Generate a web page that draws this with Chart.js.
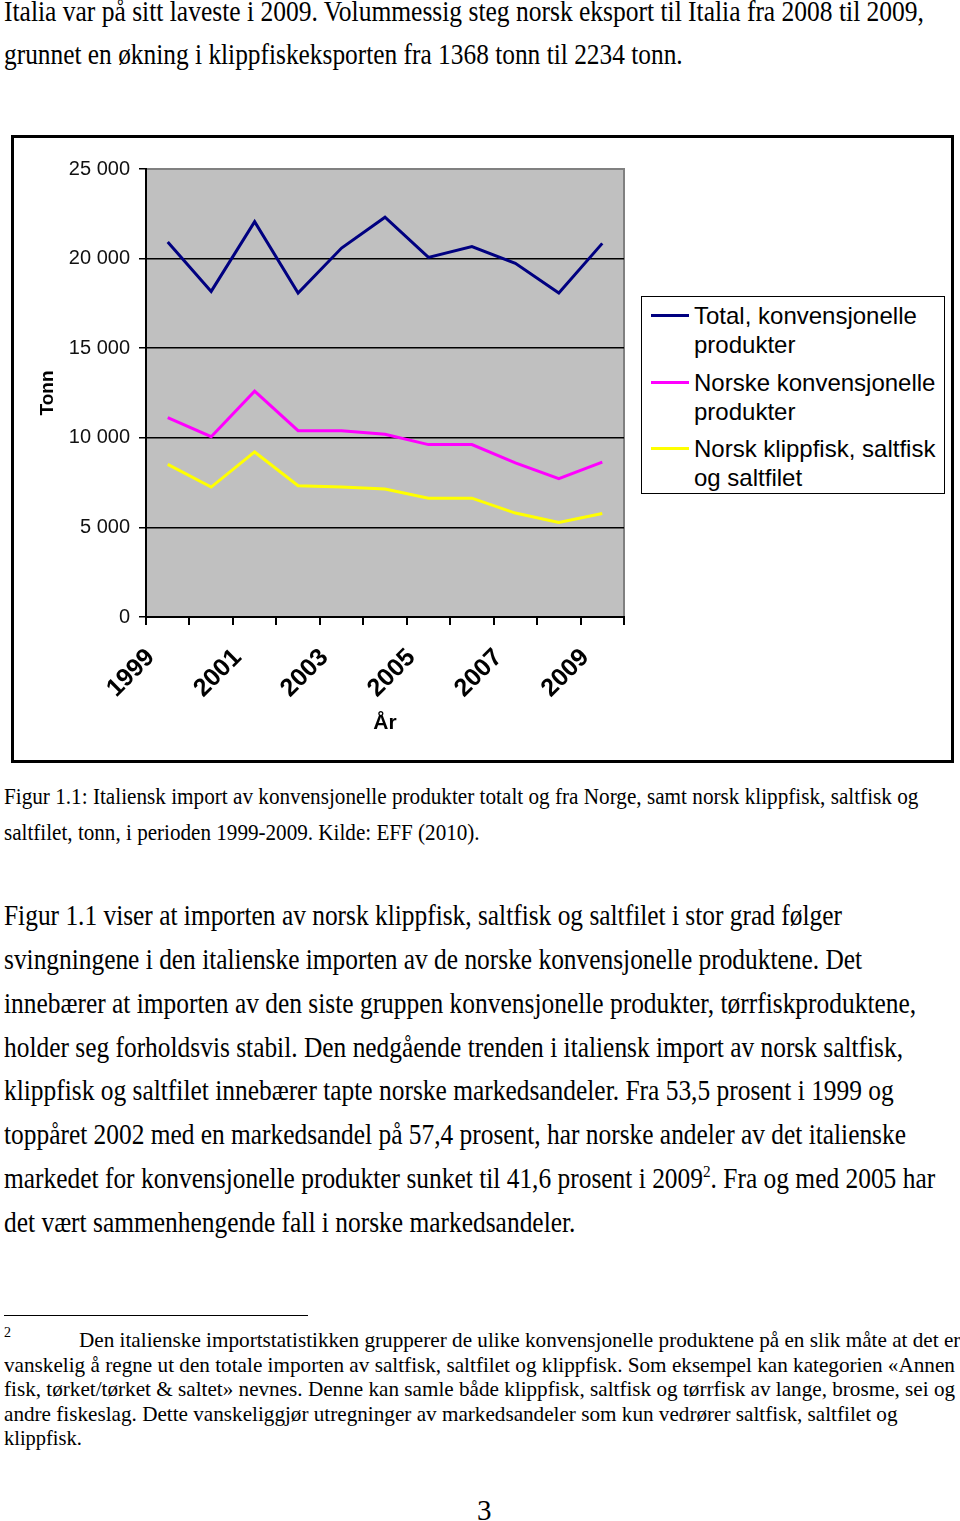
<!DOCTYPE html>
<html lang="no">
<head>
<meta charset="utf-8">
<title>Figur 1.1</title>
<script src="https://cdn.jsdelivr.net/npm/chart.js"></script>
<style>
  html, body { margin: 0; padding: 0; background: #fff; }
  body { width: 960px; height: 1521px; position: relative; overflow: hidden; font-family: "Liberation Serif", "Times New Roman", serif; color: #000; }
  .ln { position: absolute; left: 4px; white-space: nowrap; transform-origin: 0 50%; }
  .big { font-size: 29px; height: 30px; line-height: 30px; }
  .cap { font-size: 24px; height: 26px; line-height: 26px; }
  .fn { font-size: 21.5px; height: 24px; line-height: 24px; }
  #frame { position: absolute; left: 11px; top: 135px; width: 937px; height: 622px; border: 3px solid #000; }
  #frame canvas { display: block; }
  #legend { position: absolute; left: 627px; top: 158px; width: 302px; height: 196px; border: 1.5px solid #000; background: #fff;
            font-family: "Liberation Sans", Arial, sans-serif; font-size: 24px; line-height: 29px; }
  .item { position: absolute; left: 52px; }
  .swatch { position: absolute; left: -43px; top: 13px; width: 38px; height: 3px; }
  #rule { position: absolute; left: 4px; top: 1315px; width: 304px; height: 1px; background: #000; }
</style>
</head>
<body>

<div class="ln big" style="top:-4px" data-w="920">Italia var på sitt laveste i 2009. Volummessig steg norsk eksport til Italia fra 2008 til 2009,</div>
<div class="ln big" style="top:39px" data-w="679">grunnet en økning i klippfiskeksporten fra 1368 tonn til 2234 tonn.</div>

<div id="frame">
  <canvas id="chart" width="937" height="622"></canvas>
  <div id="legend"></div>
</div>

<div class="ln cap" style="top:783px" data-w="914">Figur 1.1: Italiensk import av konvensjonelle produkter totalt og fra Norge, samt norsk klippfisk, saltfisk og</div>
<div class="ln cap" style="top:819px" data-w="476">saltfilet, tonn, i perioden 1999-2009. Kilde: EFF (2010).</div>

<div class="ln big" style="top:900px" data-w="838">Figur 1.1 viser at importen av norsk klippfisk, saltfisk og saltfilet i stor grad følger</div>
<div class="ln big" style="top:944px" data-w="858">svingningene i den italienske importen av de norske konvensjonelle produktene. Det</div>
<div class="ln big" style="top:988px" data-w="912">innebærer at importen av den siste gruppen konvensjonelle produkter, tørrfiskproduktene,</div>
<div class="ln big" style="top:1032px" data-w="899">holder seg forholdsvis stabil. Den nedgående trenden i italiensk import av norsk saltfisk,</div>
<div class="ln big" style="top:1075px" data-w="890">klippfisk og saltfilet innebærer tapte norske markedsandeler. Fra 53,5 prosent i 1999 og</div>
<div class="ln big" style="top:1119px" data-w="902">toppåret 2002 med en markedsandel på 57,4 prosent, har norske andeler av det italienske</div>
<div class="ln big" style="top:1163px" data-w="931">markedet for konvensjonelle produkter sunket til 41,6 prosent i 2009<sup style="font-size:60%;line-height:0">2</sup>. Fra og med 2005 har</div>
<div class="ln big" style="top:1207px" data-w="571">det vært sammenhengende fall i norske markedsandeler.</div>

<div id="rule"></div>
<div class="ln" style="top:1325px;font-size:14px">2</div>
<div class="ln fn" style="top:1328px;left:79px" data-w="881">Den italienske importstatistikken grupperer de ulike konvensjonelle produktene på en slik måte at det er</div>
<div class="ln fn" style="top:1353px" data-w="951">vanskelig å regne ut den totale importen av saltfisk, saltfilet og klippfisk. Som eksempel kan kategorien «Annen</div>
<div class="ln fn" style="top:1377px" data-w="951">fisk, tørket/tørket &amp; saltet» nevnes. Denne kan samle både klippfisk, saltfisk og tørrfisk av lange, brosme, sei og</div>
<div class="ln fn" style="top:1402px" data-w="894">andre fiskeslag. Dette vanskeliggjør utregninger av markedsandeler som kun vedrører saltfisk, saltfilet og</div>
<div class="ln fn" style="top:1426px" data-w="78">klippfisk.</div>

<div class="ln big" style="top:1495px;left:477px">3</div>

<script>
// data (tonn)
const years = ['1999', '2000', '2001', '2002', '2003', '2004', '2005', '2006', '2007', '2008', '2009'];
const total = [20930, 18170, 22060, 18080, 20590, 22310, 20070, 20670, 19740, 18080, 20850];
const norske = [11130, 10060, 12600, 10400, 10390, 10200, 9620, 9620, 8600, 7720, 8640];
const klippfisk = [8520, 7250, 9210, 7330, 7250, 7140, 6630, 6630, 5800, 5270, 5780];

const seriesNames = [
    ['Total, konvensjonelle', 'produkter'],
    ['Norske konvensjonelle', 'produkter'],
    ['Norsk klippfisk, saltfisk', 'og saltfilet']
];
const seriesColors = ['#000080', '#ff00ff', '#ffff00'];
const yTicks = [0, 5000, 10000, 15000, 20000, 25000];

// fit each text line to the width it has on the page
document.querySelectorAll('.ln[data-w]').forEach(function (el) {
    const w = +el.dataset.w;
    const natural = el.scrollWidth;
    el.style.transform = 'scaleX(' + (w / natural) + ')';
});

const sansFont = '"Liberation Sans", Arial, sans-serif';

// gray plot area like the old excel charts
const plotBg = {
    id: 'plotBg',
    beforeDraw(chart) {
        const { ctx, chartArea: a } = chart;
        ctx.save();
        ctx.fillStyle = '#c0c0c0';
        ctx.fillRect(a.left, a.top, a.right - a.left, a.bottom - a.top);
        ctx.strokeStyle = '#808080';
        ctx.lineWidth = 2;
        ctx.strokeRect(a.left, a.top, a.right - a.left, a.bottom - a.top);
        ctx.restore();
    }
};

function fmt(v) {
    return String(v).replace(/\B(?=(\d{3})+(?!\d))/g, ' ');
}

const datasets = [total, norske, klippfisk].map(function (d, i) {
    return {
        label: seriesNames[i].join(' '),
        data: d,
        borderColor: seriesColors[i],
        backgroundColor: seriesColors[i],
        borderWidth: 3,
        pointRadius: 0,
        tension: 0,
        fill: false
    };
});

const chart = new Chart(document.getElementById('chart'), {
    type: 'line',
    data: { labels: years, datasets: datasets },
    options: {
        responsive: false,
        animation: false,
        layout: { padding: { left: 18, top: 31, right: 327, bottom: 20 } },
        plugins: {
            legend: { display: false },
            tooltip: { enabled: false }
        },
        scales: {
            x: {
                offset: true,
                grid: { drawOnChartArea: false, drawTicks: true, tickLength: 8, color: '#000', lineWidth: 2, offset: true },
                border: { display: true, color: '#000', width: 2 },
                ticks: {
                    autoSkip: false,
                    minRotation: 45,
                    maxRotation: 45,
                    labelOffset: -17,
                    padding: 18,
                    color: '#000',
                    font: { family: sansFont, size: 25, weight: 'bold' },
                    callback: function (v, i) { return i % 2 === 0 ? years[i] : ''; }
                },
                title: { display: true, text: 'År', color: '#000', font: { family: sansFont, size: 21, weight: 'bold' } },
                afterFit: function (s) { s.height = 123; }
            },
            y: {
                min: 0,
                max: 25000,
                afterBuildTicks: function (s) { s.ticks = yTicks.map(function (v) { return { value: v }; }); },
                grid: {
                    color: function (c) { return c.tick && c.tick.value === 25000 ? 'rgba(0,0,0,0)' : '#000'; },
                    tickColor: '#000',
                    lineWidth: 1.5,
                    tickLength: 7
                },
                border: { display: true, color: '#000', width: 2 },
                ticks: {
                    padding: 9,
                    color: '#111',
                    font: { family: sansFont, size: 20 },
                    callback: function (v) { return fmt(v); }
                },
                title: { display: true, text: 'Tonn', color: '#000', font: { family: sansFont, size: 19, weight: 'bold' } },
                afterFit: function (s) { s.width = 114; }
            }
        }
    },
    plugins: [plotBg]
});

// html legend with two-line entries
const legend = document.getElementById('legend');
seriesNames.forEach(function (lines, i) {
    const item = document.createElement('div');
    item.className = 'item';
    item.style.top = (4 + i * 66.5) + 'px';
    item.innerHTML = '<span class="swatch" style="background:' + seriesColors[i] + '"></span>' + lines.join('<br>');
    legend.appendChild(item);
});
</script>
</body>
</html>
